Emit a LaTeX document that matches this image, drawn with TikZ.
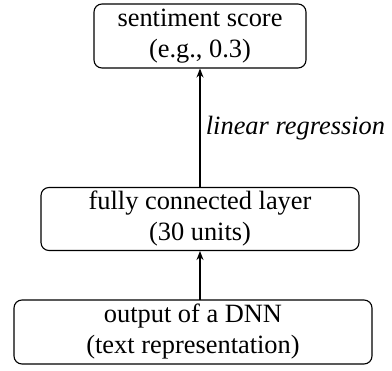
\documentclass[tikz,border=0pt]{standalone}
\usepackage{fontspec}
\setmainfont{Liberation Serif}
\usetikzlibrary{arrows.meta}
\newcommand{\twolines}[2]{\raisebox{-3.5pt}{\begin{tabular}{@{}c@{}}#1\\#2\end{tabular}}}
\begin{document}
\begin{tikzpicture}[x=1pt,y=-1pt,
  box/.style={draw, rounded corners=8pt, line width=1.1pt, inner sep=0pt, align=center,
    font=\fontsize{26.4}{31}\selectfont},
  conn/.style={line width=1.1pt, -{Stealth[length=9pt,width=7pt]}},
  lbl/.style={font=\fontsize{26.4}{31}\selectfont\itshape}]
\useasboundingbox (0,0) rectangle (392,371);
\node[box, minimum width=212pt, minimum height=64pt] (score) at (200,36) {\twolines{sentiment score}{(e.g., 0.3)}};
\node[box, minimum width=318pt, minimum height=63pt] (fc) at (200,219) {\twolines{fully connected layer}{(30 units)}};
\node[box, minimum width=358pt, minimum height=64pt] (dnn) at (193,332) {\twolines{output of a DNN}{(text representation)}};
\coordinate (dnnTop) at (200,300);
\draw[conn] (fc.north -| dnnTop) -- (score.south) node[midway, right=2pt, lbl] {linear regression};
\draw[conn] (dnnTop) -- (fc.south -| dnnTop);
\end{tikzpicture}
\end{document}
